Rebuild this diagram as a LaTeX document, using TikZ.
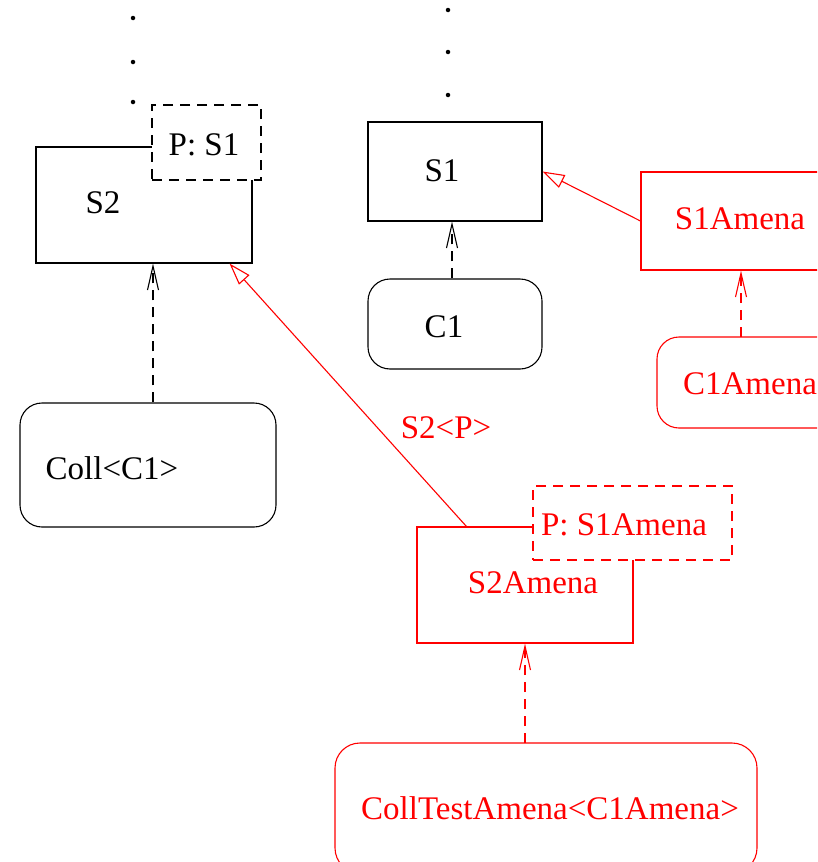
\documentclass[tikz,border=0pt]{standalone}
\usepackage{fontspec}
\setmainfont{Liberation Serif}
\usetikzlibrary{arrows.meta,calc}
\tikzset{
  box/.style={draw, line width=1.1pt, fill=white, inner sep=0pt, rectangle},
  roundbox/.style={box, rounded corners=22pt},
  parambox/.style={box, dash pattern=on 10pt off 7pt},
  lbl/.style={inner sep=0pt, font=\fontsize{33}{40}\selectfont},
  realize/.style={line width=1.1pt, dash pattern=on 10pt off 7pt,
    -{Straight Barb[length=24pt, width=11pt, line width=1.1pt]}},
  inherit/.style={line width=1.1pt,
    -{Triangle[open, length=22pt, width=14pt, line width=1.1pt, fill=white]}},
  dot/.style={circle, fill, inner sep=0pt, minimum size=4.5pt}
}
\begin{document}
\begin{tikzpicture}[x=1pt, y=-1pt]
\useasboundingbox (0,0) rectangle (817,862);
\clip (0,0) rectangle (817,862);

% continuation dots above the two class hierarchies
\node[dot] (dl1) at (133,18) {};
\node[dot] (dl2) at (133,62) {};
\node[dot] (dl3) at (133,102) {};
\node[dot] (dr1) at (448,10) {};
\node[dot] (dr2) at (448,52) {};
\node[dot] (dr3) at (448,95) {};

% black classes
\node[box, minimum width=216pt, minimum height=116pt] (S2) at (144,205) {};
\node[lbl] (S2t) at (103,203) {S2};
\node[parambox, minimum width=109pt, minimum height=75pt] (PS1) at (206.5,142.5) {};
\node[lbl] (PS1t) at (204,145) {P: S1};

\node[box, minimum width=174pt, minimum height=99pt] (S1) at (455,171.5) {};
\node[lbl] (S1t) at (442,171) {S1};
\node[roundbox, minimum width=174pt, minimum height=90pt] (C1) at (455,324) {};
\node[lbl] (C1t) at (444,327) {C1};
\node[roundbox, minimum width=256pt, minimum height=124pt] (Coll) at (148,465) {};
\node[lbl] (Collt) at (112,468) {Coll<C1>};

% red classes
\begin{scope}[red]
\node[box, minimum width=200pt, minimum height=98pt] (S1Am) at (741,221) {};
\node[lbl] (S1Amt) at (740,219) {S1Amena};
\node[roundbox, minimum width=190pt, minimum height=91pt] (C1Am) at (752,382.5) {};
\node[lbl] (C1Amt) at (750,384) {C1Amena};

\node[box, minimum width=216pt, minimum height=116pt] (S2Am) at (525,585) {};
\node[lbl] (S2Amt) at (533,583) {S2Amena};
\node[parambox, minimum width=199pt, minimum height=74pt] (PS1Am) at (632.5,523) {};
\node[lbl] (PS1Amt) at (624,525) {P: S1Amena};

\node[roundbox, rounded corners=25pt, minimum width=422pt, minimum height=130pt] (CT) at (546,808) {};
\node[lbl] (CTt) at (550,808) {CollTestAmena<C1Amena>};

\node[lbl] (S2P) at (446,428) {S2<P>};
\end{scope}

% realizations (dashed) and specializations (hollow triangle)
\coordinate (c1top) at ($(C1.north)+(-3,0)$);
\draw[realize] (c1top) -- (c1top |- S1.south);
\coordinate (colltop) at ($(Coll.north)+(5,0)$);
\draw[realize] (colltop) -- (colltop |- S2.south);
\begin{scope}[red]
\coordinate (c1amtop) at (741,337);
\draw[realize] (c1amtop) -- (c1amtop |- S1Am.south);
\coordinate (cttop) at (525,743);
\draw[realize] (cttop) -- (cttop |- S2Am.south);
\draw[inherit] (S1Am.west) -- (S1.east);
\coordinate (s2amtop) at ($(S2Am.north west)+(50,0)$);
\coordinate (s2bot) at ($(S2.south east)+(-23,0)$);
\draw[inherit] (s2amtop) -- (s2bot);
\end{scope}
\end{tikzpicture}
\end{document}
